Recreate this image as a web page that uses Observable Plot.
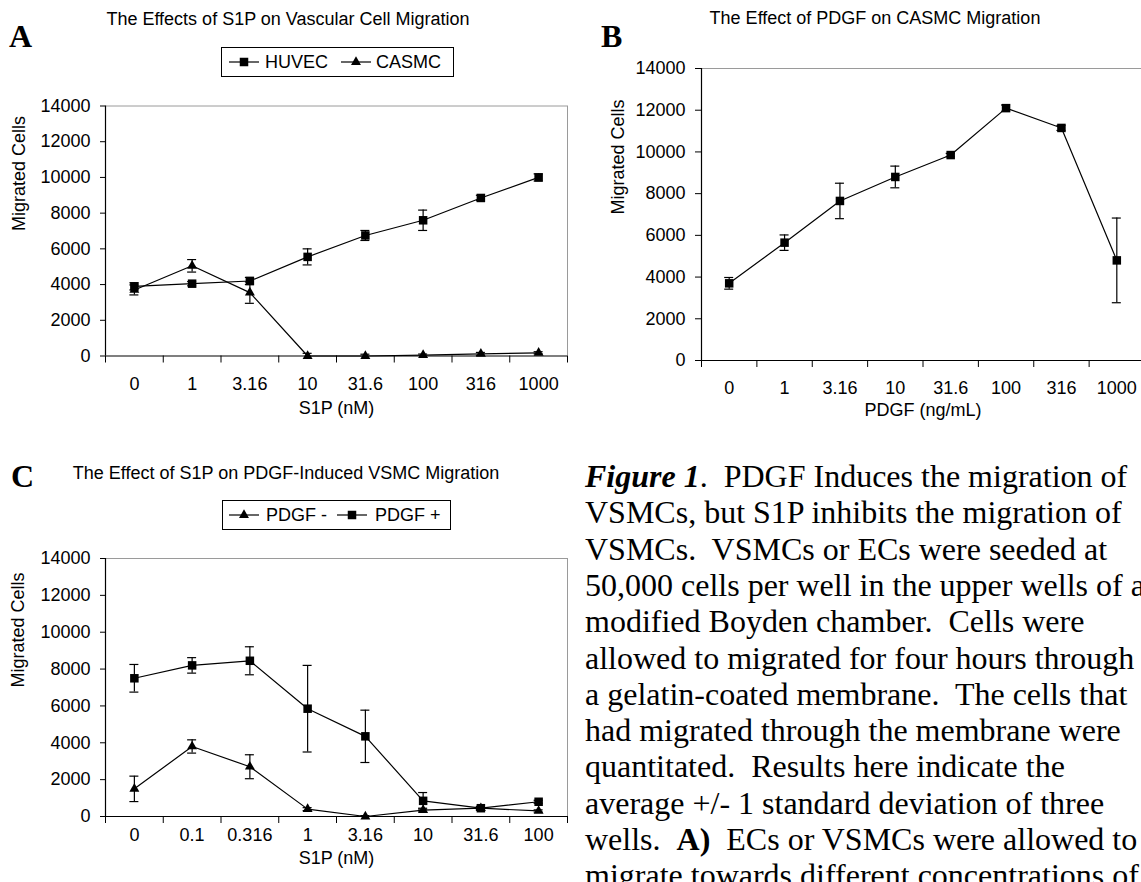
<!DOCTYPE html>
<html><head><meta charset="utf-8">
<script src="https://cdn.jsdelivr.net/npm/d3@7"></script>
<script src="https://cdn.jsdelivr.net/npm/@observablehq/plot@0.6"></script>
<style>
html,body{margin:0;padding:0;background:#fff;overflow:hidden;}
#fig{position:relative;width:1141px;height:882px;overflow:hidden;background:#fff;}
.abs{position:absolute;}
.t18{font-family:"Liberation Sans",Arial,sans-serif;font-size:18px;line-height:18px;color:#000;white-space:nowrap;}
.title{transform:translateX(-50%);}
.letter{font-family:"Liberation Serif","Times New Roman",serif;font-weight:bold;font-size:32px;line-height:32px;color:#000;}
.legend{border:1px solid #000;box-sizing:border-box;background:#fff;}
.capline{font-family:"Liberation Serif","Times New Roman",serif;font-size:32px;line-height:36.3px;height:36.3px;white-space:pre;color:#000;}
</style></head>
<body><div id="fig"></div>
<script>
// ---------- data ----------
const yTicks = [0, 2000, 4000, 6000, 8000, 10000, 12000, 14000];
const yTitle = "Migrated Cells";

// Panel A
const titleA = "The Effects of S1P on Vascular Cell Migration";
const xTitleA = "S1P (nM)";
const concA = ["0", "1", "3.16", "10", "31.6", "100", "316", "1000"];
const huvec = [3900, 4050, 4200, 5550, 6750, 7600, 8850, 10000];
const huvecSd = [200, 120, 200, 450, 280, 570, 150, 200];
const casmcA = [3700, 5050, 3550, 0, 0, 50, 120, 180];
const casmcASd = [280, 350, 600, 150, 100, 60, 80, 60];

// Panel B
const titleB = "The Effect of PDGF on CASMC Migration";
const xTitleB = "PDGF (ng/mL)";
const concB = ["0", "1", "3.16", "10", "31.6", "100", "316", "1000"];
const pdgfB = [3700, 5650, 7650, 8800, 9850, 12100, 11150, 4800];
const pdgfBSd = [280, 370, 850, 520, 80, 150, 120, 2030];

// Panel C
const titleC = "The Effect of S1P on PDGF-Induced VSMC Migration";
const xTitleC = "S1P (nM)";
const concC = ["0", "0.1", "0.316", "1", "3.16", "10", "31.6", "100"];
const pdgfMinus = [1500, 3800, 2700, 400, 0, 350, 450, 300];
const pdgfMinusSd = [690, 360, 650, 80, 50, 100, 80, 60];
const pdgfPlus = [7500, 8200, 8450, 5850, 4350, 850, 450, 800];
const pdgfPlusSd = [750, 420, 760, 2350, 1420, 450, 100, 80];

// caption: each line is a list of [text, style] segments (style: "" | "b" | "bi")
const captionLines = [
  [["Figure 1", "bi"], [".  PDGF Induces the migration of", ""]],
  [["VSMCs, but S1P inhibits the migration of", ""]],
  [["VSMCs.  VSMCs or ECs were seeded at", ""]],
  [["50,000 cells per well in the upper wells of a", ""]],
  [["modified Boyden chamber.  Cells were", ""]],
  [["allowed to migrated for four hours through", ""]],
  [["a gelatin-coated membrane.  The cells that", ""]],
  [["had migrated through the membrane were", ""]],
  [["quantitated.  Results here indicate the", ""]],
  [["average +/- 1 standard deviation of three", ""]],
  [["wells.  ", ""], ["A)", "b"], ["  ECs or VSMCs were allowed to", ""]],
  [["migrate towards different concentrations of", ""]]
];

// ---------- drawing ----------
const SYM = {square: {symbol: "square", r: 4.8}, triangle: {symbol: "triangle", r: 3.7}};
const fig = document.getElementById("fig");

function panel(cfg) {
  const n = cfg.cats.length;
  const idx = d3.range(n);
  const yMax = d3.max(yTicks);
  const marks = [
    Plot.ruleY([yMax], {stroke: "#9a9a9a", strokeWidth: 1}),
    Plot.ruleX([n - 0.5], {stroke: "#9a9a9a", strokeWidth: 1}),
    Plot.ruleX([-0.5], {stroke: "black", strokeWidth: 1.2}),
    Plot.ruleY([0], {stroke: "black", strokeWidth: 1.2}),
    Plot.axisY({ticks: yTicks, tickSize: cfg.yTickLen, tickPadding: 10, tickFormat: d => String(d), label: null, stroke: "black", fill: "black"}),
    Plot.axisX({ticks: d3.range(n + 1).map(i => i - 0.5), tickSize: cfg.xTickLen, tickFormat: () => "", label: null, stroke: "black"}),
    Plot.axisX({ticks: idx, tickSize: 0, tickPadding: cfg.xLabelPad, tickFormat: i => cfg.cats[i], label: null, fill: "black"})
  ];
  for (const s of cfg.series) {
    const data = idx.map(i => ({i, v: s.values[i], e: s.sd[i]}));
    marks.push(Plot.ruleX(data, {x: "i", y1: d => Math.max(0, d.v - d.e), y2: d => d.v + d.e, stroke: "black", strokeWidth: 1.2}));
    marks.push(Plot.ruleY(data, {x1: "i", x2: "i", y: d => d.v + d.e, insetLeft: -4.5, insetRight: -4.5, stroke: "black", strokeWidth: 1.2}));
    marks.push(Plot.ruleY(data.filter(d => d.v - d.e > 0), {x1: "i", x2: "i", y: d => d.v - d.e, insetLeft: -4.5, insetRight: -4.5, stroke: "black", strokeWidth: 1.2}));
    marks.push(Plot.line(data, {x: "i", y: "v", stroke: "black", strokeWidth: 1.2}));
    marks.push(Plot.dot(data, {x: "i", y: "v", symbol: SYM[s.symbol].symbol, r: SYM[s.symbol].r, fill: "black", stroke: "none"}));
  }
  marks.push(Plot.text([cfg.xTitle], {frameAnchor: "bottom", dy: cfg.xTitleDy, text: d => d, fill: "black"}));
  marks.push(Plot.text([yTitle], {frameAnchor: "left", dx: cfg.yTitleDx, rotate: -90, text: d => d, fill: "black"}));
  const svg = Plot.plot({
    width: cfg.width, height: cfg.height,
    marginTop: cfg.mt, marginRight: cfg.mr, marginBottom: cfg.mb, marginLeft: cfg.ml,
    x: {type: "linear", domain: [-0.5, n - 0.5]},
    y: {type: "linear", domain: [0, yMax]},
    style: {fontFamily: "'Liberation Sans', Arial, sans-serif", fontSize: "18px", color: "black", background: "transparent", overflow: "visible"},
    marks
  });
  svg.style.position = "absolute";
  svg.style.left = cfg.left + "px";
  svg.style.top = cfg.top + "px";
  svg.style.maxWidth = "none";
  fig.appendChild(svg);
}

panel({left: 0, top: 0, width: 580, height: 430, mt: 105.5, mr: 13, mb: 74.5, ml: 105,
  cats: concA, xTitle: xTitleA, xTitleDy: 57.5, yTitleDx: -86.5, xTickLen: 7, yTickLen: 5, xLabelPad: 21,
  series: [{values: huvec, sd: huvecSd, symbol: "square"}, {values: casmcA, sd: casmcASd, symbol: "triangle"}]});

panel({left: 580, top: 0, width: 580, height: 430, mt: 68, mr: 16, mb: 70, ml: 121,
  cats: concB, xTitle: xTitleB, xTitleDy: 55, yTitleDx: -83, xTickLen: 7, yTickLen: 6, xLabelPad: 20.5,
  series: [{values: pdgfB, sd: pdgfBSd, symbol: "square"}]});

panel({left: 0, top: 440, width: 580, height: 442, mt: 118, mr: 13, mb: 66, ml: 105,
  cats: concC, xTitle: xTitleC, xTitleDy: 47, yTitleDx: -87, xTickLen: 7, yTickLen: 5, xLabelPad: 12,
  series: [{values: pdgfMinus, sd: pdgfMinusSd, symbol: "triangle"}, {values: pdgfPlus, sd: pdgfPlusSd, symbol: "square"}]});

// ---------- text overlays ----------
function addDiv(cls, text, left, top, extra) {
  const d = document.createElement("div");
  d.className = "abs " + cls;
  if (text !== null) d.textContent = text;
  d.style.left = left + "px";
  d.style.top = top + "px";
  if (extra) Object.assign(d.style, extra);
  fig.appendChild(d);
  return d;
}
function title(text, cx, cy) { addDiv("t18 title", text, cx, cy - 9); }
title(titleA, 288, 19);
title(titleB, 875, 18);
title(titleC, 286, 473);

addDiv("letter", "A", 9, 20);
addDiv("letter", "B", 601, 20);
addDiv("letter", "C", 11, 460);

function glyph(symbolName, left, cy) {
  const s = SYM[symbolName];
  const type = symbolName === "square" ? d3.symbolSquare : d3.symbolTriangle;
  const path = d3.symbol(type, s.r * s.r * Math.PI)();
  const ns = "http://www.w3.org/2000/svg";
  const svg = document.createElementNS(ns, "svg");
  svg.setAttribute("width", 31); svg.setAttribute("height", 14);
  svg.style.position = "absolute"; svg.style.left = left + "px"; svg.style.top = (cy - 7) + "px";
  const line = document.createElementNS(ns, "line");
  line.setAttribute("x1", 0); line.setAttribute("x2", 30); line.setAttribute("y1", 7); line.setAttribute("y2", 7);
  line.setAttribute("stroke", "black"); line.setAttribute("stroke-width", 1.2);
  const p = document.createElementNS(ns, "path");
  p.setAttribute("d", path); p.setAttribute("transform", "translate(15,7)"); p.setAttribute("fill", "black");
  svg.appendChild(line); svg.appendChild(p);
  fig.appendChild(svg);
}
function legend(box, items) {
  addDiv("legend", null, box.left, box.top, {width: box.w + "px", height: box.h + "px"});
  const cy = box.top + box.h / 2;
  for (const it of items) {
    glyph(it.symbol, it.g, cy);
    addDiv("t18", it.label, it.t, cy - 9);
  }
}
legend({left: 221, top: 47, w: 233, h: 30}, [
  {symbol: "square", label: "HUVEC", g: 229, t: 265},
  {symbol: "triangle", label: "CASMC", g: 341, t: 376}
]);
legend({left: 222, top: 500, w: 229, h: 30}, [
  {symbol: "triangle", label: "PDGF -", g: 229, t: 266},
  {symbol: "square", label: "PDGF +", g: 337, t: 375}
]);

// caption lines
captionLines.forEach((segs, k) => {
  const line = addDiv("capline", null, 585, 458 + k * 36.3);
  for (const [txt, st] of segs) {
    const span = document.createElement("span");
    span.textContent = txt;
    if (st.includes("b")) span.style.fontWeight = "bold";
    if (st.includes("i")) span.style.fontStyle = "italic";
    line.appendChild(span);
  }
});
</script></body></html>
